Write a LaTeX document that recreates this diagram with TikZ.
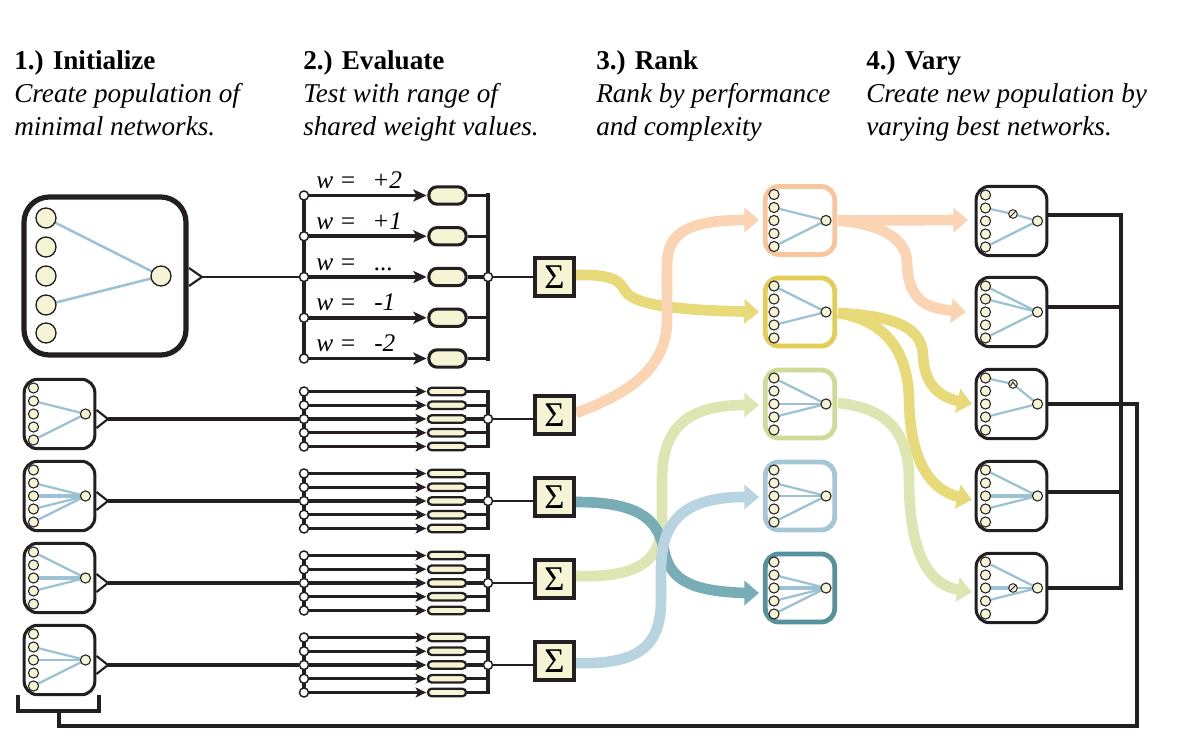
\documentclass[tikz,border=0pt]{standalone}
\usepackage{fontspec}
\setmainfont{Liberation Serif}
\usetikzlibrary{arrows.meta}
\definecolor{cream}{HTML}{F5F5D5}
\definecolor{ink}{HTML}{231F20}
\definecolor{wblue}{HTML}{9CC2D4}
\definecolor{orA}{HTML}{FBD4B4}
\definecolor{orB}{HTML}{F8C59C}
\definecolor{yeA}{HTML}{E8D979}
\definecolor{yeB}{HTML}{E2CE55}
\definecolor{grA}{HTML}{DDE5B3}
\definecolor{grB}{HTML}{CFDA96}
\definecolor{lbA}{HTML}{B9D4E1}
\definecolor{lbB}{HTML}{A6C6D6}
\definecolor{tlA}{HTML}{78ADB6}
\definecolor{tlB}{HTML}{55929D}
\tikzset{
  neu/.style={circle,draw=ink,line width=0.8pt,fill=cream,inner sep=0pt,minimum size=7.6pt},
  bigneu/.style={circle,draw=ink,line width=1pt,fill=cream,inner sep=0pt,minimum size=15pt},
  hid/.style={circle,draw=ink,line width=0.7pt,fill=cream,inner sep=0pt,minimum size=6.5pt},
  slashnode/.style={hid,path picture={\draw[ink,line width=0.7pt] (path picture bounding box.south west) -- (path picture bounding box.north east);}},
  caretnode/.style={hid,path picture={\draw[ink,line width=0.7pt] ([xshift=-2pt,yshift=-1.5pt]path picture bounding box.center) -- ([yshift=1.5pt]path picture bounding box.center) -- ([xshift=2pt,yshift=-1.5pt]path picture bounding box.center);}},
  netbox/.style={draw=ink,line width=2.3pt,rounded corners=10pt,fill=white,minimum width=53pt,minimum height=52pt,inner sep=0pt},
  rankbox/.style={draw=#1,line width=3.6pt,rounded corners=10pt,fill=white,minimum width=52pt,minimum height=51pt,inner sep=0pt},
  bigbox/.style={draw=ink,line width=3.9pt,rounded corners=19pt,fill=white,minimum width=121.5pt,minimum height=118.5pt,inner sep=0pt},
  wedge/.style={wblue,line width=1.7pt},
  wire/.style={ink,line width=2.6pt},
  thinwire/.style={ink,line width=1.6pt},
  port/.style={circle,draw=ink,line width=1.1pt,fill=white,inner sep=0pt,minimum size=6.8pt},
  pill/.style={draw=ink,line width=2.3pt,fill=cream,rounded corners=6.2pt,minimum width=28pt,minimum height=13pt,inner sep=0pt},
  slim/.style={draw=ink,line width=1.7pt,fill=cream,rounded corners=2.6pt,minimum width=28.5pt,minimum height=5.5pt,inner sep=0pt},
  sigbox/.style={draw=ink,line width=3pt,fill=cream,minimum width=29.5pt,minimum height=28.5pt,inner sep=0pt,font=\fontsize{26}{26}\selectfont},
  band/.style={line width=8pt,-{Triangle[length=11pt,width=18pt]}},
  head/.style={font=\fontsize{20.4}{24}\selectfont\bfseries,anchor=base west,inner sep=0pt},
  sub/.style={font=\fontsize{20.4}{24}\selectfont\itshape,anchor=base west,inner sep=0pt},
  wlab/.style={font=\fontsize{19}{19}\selectfont\itshape,anchor=base west,inner sep=0pt},
}
% #1 name, #2 cx, #3 cy, #4 box style, #5 list k/linewidth, #6 extra code
\newcommand\drawnet[6]{%
  \node[#4] (#1) at (#2,#3) {};
  \foreach \k in {1,...,5} {\coordinate (#1-c\k) at ({#2-26},{#3+13*(\k-3)});}
  \coordinate (#1-co) at ({#2+26},#3);
  \foreach \k/\lw in {#5} {\draw[wblue,line width=\lw] (#1-c\k) -- (#1-co);}
  #6
  \foreach \k in {1,...,5} {\node[neu] (#1-i\k) at (#1-c\k) {};}
  \node[neu] (#1-o) at (#1-co) {};
}
% small evaluation group: #1 name, #2 line y, #3 sigma y
\newcommand\evalgroup[3]{%
  \foreach \k in {1,...,5} {
    \coordinate (#1-l\k) at (304,{#2+13.75*(\k-3)});
    \node[slim] (#1-p\k) at (447,{#2+13.75*(\k-3)}) {};
  }
  \coordinate (#1-rt) at (488,{#2-27.5});
  \coordinate (#1-rb) at (488,{#2+27.5});
  \draw[wire] (#1-l1) -- (#1-l5);
  \draw[wire,line cap=rect] (#1-rt) -- (#1-rb);
  \foreach \k in {1,...,5} {
    \draw[wire,-{Stealth[length=8pt,width=7.5pt,inset=2pt]}] (#1-l\k) -- ([xshift=-0.5pt]#1-p\k.west);
    \draw[wire] (#1-p\k.east) -- (#1-p\k.east -| #1-rt);
    \node[port] (#1-q\k) at (#1-l\k) {};
  }
  \node[port] (#1-j) at (488,#2) {};
  \node[sigbox] (#1-s) at (554.5,#3) {Σ};
  \draw[thinwire] (#1-j) -- (#1-j -| #1-s.west);
}
\begin{document}
\begin{tikzpicture}[x=0.75pt,y=-0.75pt]
\useasboundingbox (0,0) rectangle (1183,742);

% ---------- headings
\node[head] (h1) at (14,70) {1.) Initialize};
\node[sub] (h1a) at (14,103) {Create population of};
\node[sub] (h1b) at (14,136) {minimal networks.};
\node[head] (h2) at (303,70) {2.) Evaluate};
\node[sub] (h2a) at (303,103) {Test with range of};
\node[sub] (h2b) at (303,136) {shared weight values.};
\node[head] (h3) at (596,70) {3.) Rank};
\node[sub] (h3a) at (596,103) {Rank by performance};
\node[sub] (h3b) at (596,136) {and complexity};
\node[head] (h4) at (866,70) {4.) Vary};
\node[sub] (h4a) at (866,103) {Create new population by};
\node[sub] (h4b) at (866,136) {varying best networks.};

% ---------- coloured bands (Sigma -> rank)
\coordinate (r1t) at (759,220);
\coordinate (r2t) at (759,312);
\coordinate (r3t) at (759,405);
\coordinate (r4t) at (759,497);
\coordinate (r5t) at (759,593);
\coordinate (s0e) at (576,275);
\coordinate (s1e) at (576,413);
\coordinate (s2e) at (576,502);
\coordinate (s3e) at (576,576);
\coordinate (s4e) at (576,663);
\draw[band,yeA] (s0e) .. controls (622,274) and (620,285) .. (626,292) .. controls (634,302) and (660,310) .. (745,311.5) -- (r2t);
\draw[band,orA] (s1e) .. controls (625,395) and (667,370) .. (667,320) -- (667,265) .. controls (667,235) and (685,220) .. (745,220) -- (r1t);
\draw[band,grA] (s3e) .. controls (640,578) and (662,560) .. (662,520) -- (662,480) .. controls (662,430) and (685,405) .. (745,405) -- (r3t);
\draw[band,tlA] (s2e) .. controls (640,502) and (658,520) .. (664,550) .. controls (670,580) and (690,591) .. (745,593) -- (r5t);
\draw[band,lbA] (s4e) .. controls (640,665) and (661,645) .. (661,600) -- (661,570) .. controls (661,520) and (685,497) .. (745,497) -- (r4t);

% ---------- coloured bands (rank -> vary)
\coordinate (r1e) at (838,220.5);
\coordinate (r2e) at (838,313);
\coordinate (r3e) at (838,403);
\coordinate (v1t) at (968,220);
\coordinate (v2t) at (966,312);
\coordinate (v3t) at (972,404);
\coordinate (v4t) at (972,500);
\coordinate (v5t) at (972,592);
\draw[band,orA] (r1e) -- (v1t);
\draw[band,orA] (r1e) .. controls (880,224) and (906,238) .. (907,262) .. controls (908,300) and (925,308) .. (v2t);
\draw[band,yeA] (r2e) .. controls (900,316) and (922,330) .. (923,355) .. controls (924,385) and (940,397) .. (v3t);
\draw[band,yeA] (r2e) .. controls (880,320) and (908,345) .. (909,400) .. controls (910,460) and (930,490) .. (v4t);
\draw[band,grA] (r3e) .. controls (885,408) and (909,430) .. (909,480) .. controls (909,555) and (930,585) .. (v5t);

% ---------- big initial network
\node[bigbox] (big) at (105,276) {};
\foreach \k/\yy in {1/218,2/247,3/276,4/305,5/333} {\coordinate (bg-c\k) at (46,\yy);}
\coordinate (bg-co) at (161,276);
\draw[wblue,line width=1.9pt] (bg-c1) -- (bg-co) -- (bg-c4);
\foreach \k in {1,...,5} {\node[bigneu] (bg-i\k) at (bg-c\k) {};}
\node[bigneu] (bg-o) at (bg-co) {};
\coordinate (bg-t) at (202,277);
\draw[thinwire] (189,268) -- (bg-t) -- (189,286);

% ---------- small initial networks
\drawnet{L1}{59.5}{414}{netbox}{2/1.7pt,5/1.7pt}{}
\drawnet{L2}{59.5}{496}{netbox}{2/1.7pt,3/3pt,4/1.7pt,5/1.7pt}{}
\drawnet{L3}{59.5}{578}{netbox}{1/1.7pt,3/3pt,4/1.7pt}{}
\drawnet{L4}{59.5}{660}{netbox}{2/1.7pt,3/1.7pt,5/1.7pt}{}
\foreach \n/\cy in {L1/414,L2/496,L3/578,L4/660} {
  \coordinate (\n-t) at (108,\cy+5);
  \draw[thinwire] (96.5,\cy-4) -- (\n-t) -- (96.5,\cy+14);
}

% ---------- big evaluation group
\foreach \k in {1,...,5} {
  \coordinate (e0-l\k) at (304,{277+40.75*(\k-3)});
  \node[pill] (e0-p\k) at (447.5,{277+40.75*(\k-3)}) {};
}
\coordinate (e0-rt) at (488,195);
\coordinate (e0-rb) at (488,359);
\draw[wire] (e0-l1) -- (e0-l5);
\draw[wire,line cap=rect] (e0-rt) -- (e0-rb);
\foreach \k in {1,...,5} {
  \draw[ink,line width=2.9pt,-{Stealth[length=10pt,width=9pt,inset=2.5pt]}] (e0-l\k) -- ([xshift=-0.5pt]e0-p\k.west);
  \draw[wire] (e0-p\k.east) -- (e0-p\k.east -| e0-rt);
  \node[port] (e0-q\k) at (e0-l\k) {};
}
\node[port] (e0-j) at (488,277) {};
\node[sigbox] (e0-s) at (554.5,277) {Σ};
\draw[thinwire] (e0-j) -- (e0-s.west);
\draw[thinwire] (bg-t) -- (e0-q3);
\foreach \k in {1,...,5} {
  \node[wlab] (wl\k) at (316,{277+40.75*(\k-3)-7}) {w =};
}
\node[wlab] (wv1) at (372,188.5) {+2};
\node[wlab] (wv2) at (372,229.25) {+1};
\node[wlab] (wv3) at (374,270) {...};
\node[wlab] (wv4) at (374,310.75) {-1};
\node[wlab] (wv5) at (374,351.5) {-2};

% ---------- small evaluation groups
\evalgroup{e1}{419}{415}
\evalgroup{e2}{501}{497}
\evalgroup{e3}{583}{579}
\evalgroup{e4}{665}{661}
\draw[wire] (L1-t) -- (e1-q3);
\draw[wire] (L2-t) -- (e2-q3);
\draw[wire] (L3-t) -- (e3-q3);
\draw[wire] (L4-t) -- (e4-q3);

% ---------- ranked networks
\drawnet{R1}{800}{220.5}{rankbox=orB}{2/1.7pt,5/1.7pt}{}
\drawnet{R2}{800}{312}{rankbox=yeB}{1/1.7pt,4/1.7pt}{}
\drawnet{R3}{800}{404}{rankbox=grB}{1/1.7pt,3/1.7pt,4/1.7pt}{}
\drawnet{R4}{800}{496}{rankbox=lbB}{2/1.7pt,3/1.7pt,5/1.7pt}{}
\drawnet{R5}{800}{588}{rankbox=tlB}{2/1.7pt,3/3pt,4/1.7pt,5/1.7pt}{}

% ---------- varied networks
\drawnet{V1}{1011.5}{221}{netbox}{5/1.7pt}{%
  \coordinate (V1-h) at (1013,214);
  \draw[wedge] (V1-c2) -- (V1-h) -- (V1-co);
  \node[slashnode] (V1-hn) at (V1-h) {};}
\drawnet{V2}{1011.5}{312}{netbox}{1/1.7pt,2/1.7pt,5/1.7pt}{}
\drawnet{V3}{1011.5}{404}{netbox}{4/1.7pt}{%
  \coordinate (V3-h) at (1013,384);
  \draw[wedge] (V3-c1) -- (V3-h) -- (V3-co);
  \node[caretnode] (V3-hn) at (V3-h) {};}
\drawnet{V4}{1011.5}{496}{netbox}{1/1.7pt,3/3pt,4/1.7pt}{}
\drawnet{V5}{1011.5}{588}{netbox}{1/1.7pt,4/1.7pt}{%
  \coordinate (V5-h) at (1013,588);
  \draw[wblue,line width=3pt] (V5-c3) -- (V5-h);
  \draw[wedge] (V5-h) -- (V5-co);
  \node[slashnode] (V5-hn) at (V5-h) {};}

% ---------- feedback wiring
\coordinate (b1) at (1121,215);
\coordinate (b2) at (1121,307);
\coordinate (b4) at (1121,492);
\coordinate (b5) at (1121,588);
\draw[wire,line cap=rect] (b1) -- (b5);
\draw[wire] (V1.east |- b1) -- (b1);
\draw[wire] (V2.east |- b2) -- (b2);
\draw[wire] (V4.east |- b4) -- (b4);
\draw[wire] (V5.east |- b5) -- (b5);
\coordinate (lp1) at (1137,404);
\coordinate (lp2) at (1137,726);
\coordinate (lp3) at (59,726);
\coordinate (lp4) at (59,711);
\draw[wire] (V3.east) -- (lp1) -- (lp2) -- (lp3) -- (lp4);
\coordinate (bk1) at (18,695);
\coordinate (bk2) at (18,711);
\coordinate (bk3) at (99,711);
\coordinate (bk4) at (99,695);
\draw[wire] (bk1) -- (bk2) -- (bk3) -- (bk4);
\end{tikzpicture}
\end{document}
